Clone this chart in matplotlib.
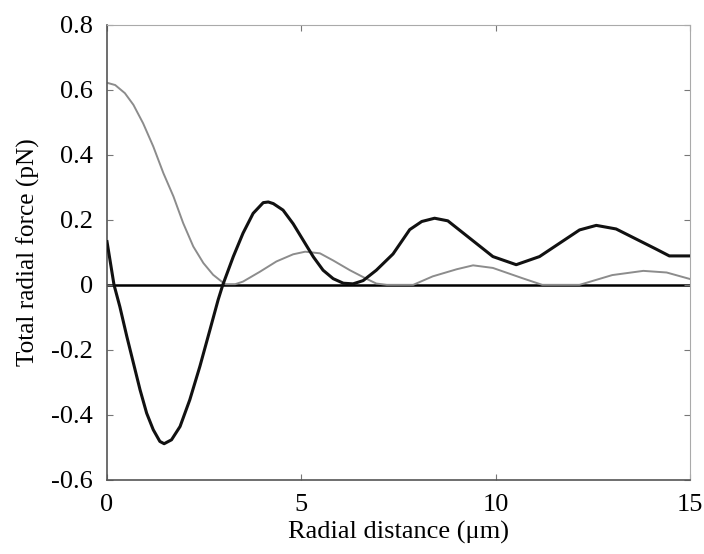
import matplotlib
matplotlib.use("Agg")
import matplotlib.pyplot as plt

# black curve (total radial force)
black_x = [0, 0.18, 0.33, 0.51, 0.68, 0.85, 1.02, 1.19, 1.36, 1.47, 1.66, 1.88, 2.13,
           2.39, 2.65, 2.86, 2.98, 3.25, 3.5, 3.76, 4.02, 4.15, 4.28, 4.53, 4.79, 5.05,
           5.31, 5.56, 5.82, 6.08, 6.33, 6.59, 6.93, 7.36, 7.79, 8.1, 8.43, 8.77, 9.93,
           10.53, 11.13, 12.16, 12.59, 13.1, 14.13, 14.47, 15]
black_y = [0.133, 0, -0.067, -0.159, -0.241, -0.323, -0.395, -0.446, -0.482, -0.489,
           -0.477, -0.436, -0.354, -0.251, -0.138, -0.046, 0, 0.087, 0.159, 0.22, 0.253,
           0.255, 0.25, 0.23, 0.188, 0.137, 0.086, 0.045, 0.019, 0.005, 0.003, 0.013,
           0.045, 0.095, 0.17, 0.195, 0.205, 0.197, 0.087, 0.062, 0.087, 0.169, 0.183,
           0.172, 0.110, 0.089, 0.089]

# gray curve
gray_x = [0, 0.21, 0.46, 0.68, 0.93, 1.19, 1.45, 1.71, 1.96, 2.22, 2.48, 2.73, 2.95,
          3.05, 3.3, 3.5, 3.93, 4.36, 4.79, 5.1, 5.48, 5.82, 6.25, 6.67, 6.93, 7.2,
          7.88, 8.38, 9.0, 9.42, 9.93, 10.7, 11.2, 12.16, 13.0, 13.8, 14.4, 15]
gray_y = [0.622, 0.615, 0.59, 0.554, 0.497, 0.426, 0.344, 0.272, 0.19, 0.118, 0.067,
          0.031, 0.01, 0.002, 0.002, 0.01, 0.04, 0.072, 0.094, 0.102, 0.097, 0.075, 0.045,
          0.019, 0.004, 0, 0, 0.026, 0.048, 0.06, 0.052, 0.02, 0, 0, 0.03, 0.043, 0.038,
          0.018]

x_ticks = [0, 5, 10, 15]
y_ticks = [-0.6, -0.4, -0.2, 0, 0.2, 0.4, 0.6, 0.8]
y_tick_labels = ['-0.6', '-0.4', '-0.2', '0', '0.2', '0.4', '0.6', '0.8']

plt.rcParams['font.family'] = ['Liberation Serif', 'DejaVu Serif']

fig = plt.figure(figsize=(7.04, 5.54), dpi=100)
ax = fig.add_axes([0.152, 0.134, 0.828, 0.821])

ax.axhline(0, color='black', linewidth=1.8, zorder=1)
ax.plot(gray_x, gray_y, color='#8c8c8c', linewidth=1.4, zorder=2)
ax.plot(black_x, black_y, color='#111111', linewidth=2.2, zorder=3,
        solid_joinstyle='round')

ax.set_xlim(0, 15)
ax.set_ylim(-0.6, 0.8)
ax.set_xticks(x_ticks)
ax.set_xticklabels([str(t) for t in x_ticks])
ax.set_yticks(y_ticks)
ax.set_yticklabels(y_tick_labels)
ax.tick_params(direction='in', length=4, width=0.8, colors='#777777', labelcolor='black',
               labelsize=19, top=True, right=True, pad=10)

for side in ['left', 'bottom']:
    ax.spines[side].set_color('#555555')
    ax.spines[side].set_linewidth(1.2)
for side in ['top', 'right']:
    ax.spines[side].set_color('#aaaaaa')
    ax.spines[side].set_linewidth(0.8)

ax.set_xlabel('Radial distance (μm)', fontsize=19, labelpad=4)
ax.set_ylabel('Total radial force (pN)', fontsize=18.2, labelpad=8)

fig.savefig('out.png', dpi=100)
